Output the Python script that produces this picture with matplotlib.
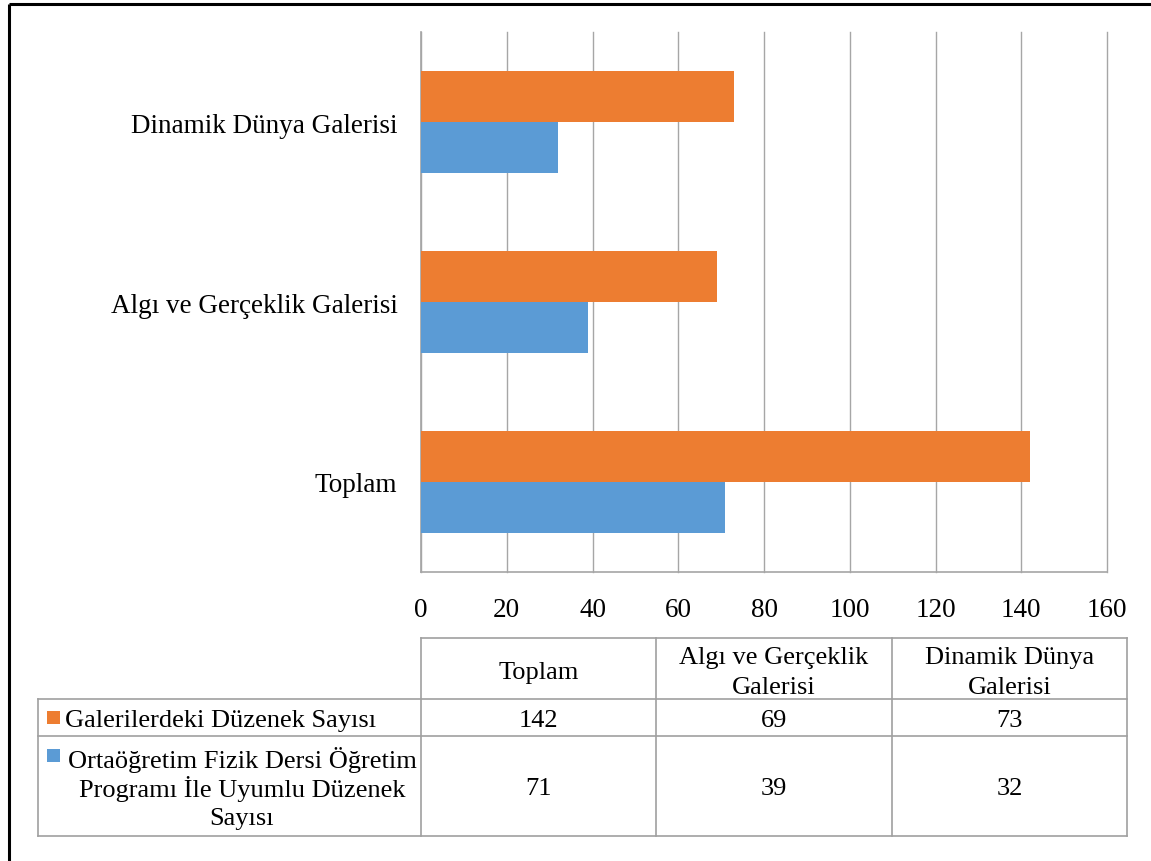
import matplotlib
matplotlib.use("Agg")
import matplotlib.pyplot as plt
from matplotlib.patches import Rectangle
import numpy as np

# Data
categories = ["Toplam", "Algı ve Gerçeklik Galerisi", "Dinamik Dünya Galerisi"]
table_headers = [["Toplam"], ["Algı ve Gerçeklik", "Galerisi"], ["Dinamik Dünya", "Galerisi"]]
series_names = [["Galerilerdeki Düzenek Sayısı"],
                ["Ortaöğretim Fizik Dersi Öğretim", "Programı İle Uyumlu Düzenek", "Sayısı"]]
galeri_duzenek = [142, 69, 73]
uyumlu_duzenek = [71, 39, 32]
x_ticks = [0, 20, 40, 60, 80, 100, 120, 140, 160]

ORANGE = "#ED7D31"
BLUE = "#5B9BD5"
GRID = "#A6A6A6"
FONT = "Liberation Serif"
FS_AX = 19.5
FS_TB = 19.0

W, H = 1151, 862
fig = plt.figure(figsize=(W / 100, H / 100), dpi=100)
fig.patch.set_facecolor("white")


def px_axes(x0, y0, x1, y1):
    """Axes placed by pixel box (top-left origin)."""
    return fig.add_axes([x0 / W, 1 - y1 / H, (x1 - x0) / W, (y1 - y0) / H])


# Bar chart
ax = px_axes(421, 33, 1107, 573)
y = np.arange(len(categories))
h = 0.286
ax.barh(y + h / 2, galeri_duzenek, height=h, color=ORANGE, zorder=3)
ax.barh(y - h / 2, uyumlu_duzenek, height=h, color=BLUE, zorder=3)
ax.set_xlim(0, 160)
ax.set_ylim(-0.5, 2.5)
ax.set_xticks(x_ticks)
ax.set_xticklabels([str(t) for t in x_ticks], fontfamily=FONT, fontsize=FS_AX)
ax.set_yticks(y)
ax.set_yticklabels(categories, fontfamily=FONT, fontsize=FS_AX)
ax.tick_params(axis="x", length=0, pad=18)
ax.tick_params(axis="y", length=0, pad=17)
ax.grid(axis="x", color=GRID, linewidth=1.0, zorder=0)
for gl in ax.get_xgridlines():
    gl.set_clip_on(False)
for s in ["top", "right"]:
    ax.spines[s].set_visible(False)
for s in ["left", "bottom"]:
    ax.spines[s].set_color(GRID)
    ax.spines[s].set_linewidth(1.2)

# Overlay in pixel coordinates for the data table and frame
ov = fig.add_axes([0, 0, 1, 1], zorder=5)
ov.set_xlim(0, W)
ov.set_ylim(H, 0)
ov.axis("off")
ov.patch.set_alpha(0)

# Frame
ov.plot([9, W + 5], [5, 5], color="black", lw=2.2, solid_capstyle="butt")
ov.plot([9, 9], [5, H + 5], color="black", lw=2.2, solid_capstyle="butt")

# Data table grid
col_x = [38, 421, 656, 892, 1127]
row_y = [639, 700, 737, 837]
lc = "#A0A0A0"
lw = 1.2
ov.plot([col_x[1], col_x[-1]], [row_y[0], row_y[0]], color=lc, lw=lw)
for yy in row_y[1:]:
    ov.plot([col_x[0], col_x[-1]], [yy, yy], color=lc, lw=lw)
ov.plot([col_x[0], col_x[0]], [row_y[1], row_y[-1]], color=lc, lw=lw)
for xx in col_x[1:]:
    ov.plot([xx, xx], [row_y[0], row_y[-1]], color=lc, lw=lw)

txt = dict(fontfamily=FONT, fontsize=FS_TB, color="black")
LINE = 29.5


def put_lines(x, yc, lines, ha="center"):
    n = len(lines)
    for k, line in enumerate(lines):
        yy = yc + (k - (n - 1) / 2) * LINE
        ov.text(x, yy, line, ha=ha, va="center_baseline", **txt)


# Header row
for i, hdr in enumerate(table_headers):
    cx = (col_x[i + 1] + col_x[i + 2]) / 2
    put_lines(cx, (row_y[0] + row_y[1]) / 2 + 1, hdr)

# Series rows
series_vals = [galeri_duzenek, uyumlu_duzenek]
colors = [ORANGE, BLUE]
square_y = [712, 750]
for r in range(2):
    y0, y1 = row_y[r + 1], row_y[r + 2]
    cy = (y0 + y1) / 2
    ov.add_patch(Rectangle((47, square_y[r]), 13, 13, color=colors[r], lw=0))
    if len(series_names[r]) == 1:
        put_lines(65, cy, series_names[r], ha="left")
    else:
        put_lines(242, cy, series_names[r])
    for c in range(3):
        cx = (col_x[c + 1] + col_x[c + 2]) / 2
        ov.text(cx, cy, str(series_vals[r][c]), ha="center",
                va="center_baseline", **txt)

fig.savefig("out.png", dpi=100, facecolor="white")
